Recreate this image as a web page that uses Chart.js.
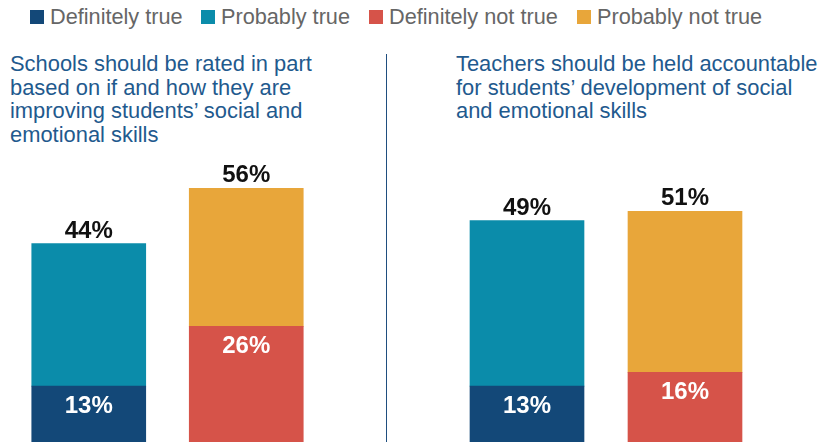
<!DOCTYPE html>
<html>
<head>
<meta charset="utf-8">
<script src="https://cdn.jsdelivr.net/npm/chart.js@4"></script>
<style>
  html, body { margin:0; padding:0; background:#fff; }
  body { width:820px; height:442px; position:relative; overflow:hidden; font-family:"Liberation Sans", Arial, Helvetica, sans-serif; }
  .leg { position:absolute; top:6px; font-size:21.7px; color:#666; white-space:nowrap; line-height:22px; }
  .leg i { position:absolute; left:0; top:4px; width:14px; height:14px; }
  .leg span { position:absolute; left:20px; top:0; }
  .title { position:absolute; top:52px; font-size:21.9px; line-height:23.6px; color:#1f5a8e; white-space:nowrap; }
  .divider { position:absolute; left:385.5px; top:54px; width:1.5px; height:388px; background:#1f4e7f; }
  canvas { position:absolute; top:150px; }
</style>
</head>
<body>
<div id="legend"></div>
<div class="title" id="t0" style="left:10px;"></div>
<div class="title" id="t1" style="left:456px;"></div>
<div class="divider"></div>
<canvas id="c0" width="315" height="292" style="left:10px;"></canvas>
<canvas id="c1" width="316" height="292" style="left:448px;"></canvas>
<script>
// ---- Data ----
const seriesNames = ['Definitely true', 'Probably true', 'Definitely not true', 'Probably not true'];
const seriesColors = ['#134878', '#0b8caa', '#d65349', '#e8a63a'];
const questions = [
  ['Schools should be rated in part', 'based on if and how they are', 'improving students\u2019 social and', 'emotional skills'],
  ['Teachers should be held accountable', 'for students\u2019 development of social', 'and emotional skills']
];
const barCategories = ['True', 'Not true'];
const definitelyTrue    = [13, 13];
const probablyTrue      = [31, 36];
const definitelyNotTrue = [26, 16];
const probablyNotTrue   = [30, 35];
const totalTrue    = [44, 49];
const totalNotTrue = [56, 51];

// ---- Legend ----
const legendLeft = [30, 201, 369, 577];
const legend = document.getElementById('legend');
seriesNames.forEach((n, i) => {
  const d = document.createElement('div');
  d.className = 'leg';
  d.style.left = legendLeft[i] + 'px';
  d.innerHTML = '<i style="background:' + seriesColors[i] + '"></i><span>' + n + '</span>';
  legend.appendChild(d);
});
questions.forEach((q, i) => {
  document.getElementById('t' + i).innerHTML = q.join('<br>');
});

// ---- Label plugin ----
const labelPlugin = {
  id: 'barLabels',
  afterDatasetsDraw(chart) {
    const ctx = chart.ctx;
    const totals = chart.options.plugins.barLabels.totals;
    ctx.save();
    ctx.textAlign = 'center';
    ctx.textBaseline = 'alphabetic';
    ctx.font = 'bold 24px "Liberation Sans", Arial, sans-serif';
    chart.data.datasets.forEach((ds, di) => {
      const meta = chart.getDatasetMeta(di);
      meta.data.forEach((el, j) => {
        const v = ds.data[j];
        if (v == null) return;
        if (ds.inner) {
          ctx.fillStyle = '#ffffff';
          ctx.fillText(v + '%', el.x, el.y + 26.5);
        } else {
          ctx.fillStyle = '#111111';
          ctx.fillText(totals[j] + '%', el.x, el.y - 6);
        }
      });
    });
    ctx.restore();
  }
};

function makeChart(id, k) {
  new Chart(document.getElementById(id), {
    type: 'bar',
    data: {
      labels: barCategories,
      datasets: [
        { label: seriesNames[0], data: [definitelyTrue[k], null], backgroundColor: seriesColors[0], inner: true },
        { label: seriesNames[1], data: [probablyTrue[k], null], backgroundColor: seriesColors[1] },
        { label: seriesNames[2], data: [null, definitelyNotTrue[k]], backgroundColor: seriesColors[2], inner: true },
        { label: seriesNames[3], data: [null, probablyNotTrue[k]], backgroundColor: seriesColors[3] }
      ]
    },
    options: {
      responsive: false,
      animation: false,
      devicePixelRatio: 1,
      layout: { padding: 0 },
      datasets: { bar: { barThickness: 114, borderWidth: 0 } },
      plugins: {
        legend: { display: false },
        tooltip: { enabled: false },
        barLabels: { totals: [totalTrue[k], totalNotTrue[k]] }
      },
      scales: {
        x: { stacked: true, display: false },
        y: { stacked: true, display: false, min: 0.87, max: 64.35 }
      }
    },
    plugins: [labelPlugin]
  });
}
makeChart('c0', 0);
makeChart('c1', 1);
</script>
</body>
</html>
